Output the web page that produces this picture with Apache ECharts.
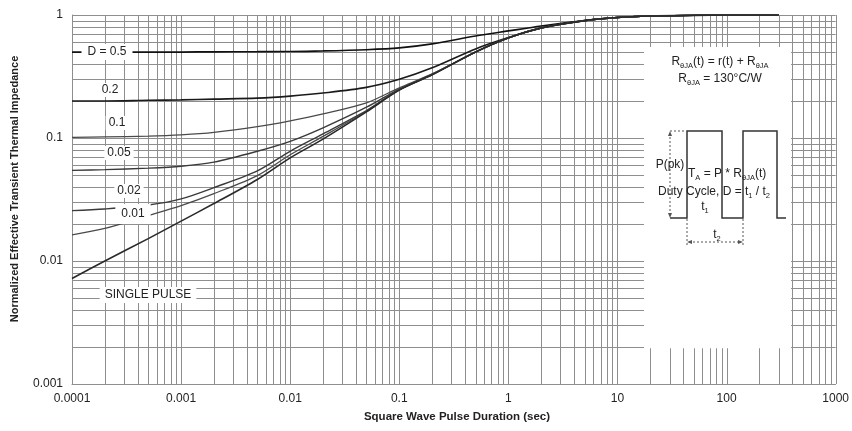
<!DOCTYPE html>
<html><head><meta charset="utf-8">
<script src="https://cdn.jsdelivr.net/npm/echarts@6/dist/echarts.min.js"></script>
<style>html,body{margin:0;padding:0;background:#fff}#c{width:852px;height:431px}</style>
</head><body><div id="c"></div>
<script>
// ---------- data ----------
const xTickLabels = ['0.0001','0.001','0.01','0.1','1','10','100','1000'];
const yTickLabels = ['0.001','0.01','0.1','1'];
const pulseDurations = [0.0001,0.0002,0.0005,0.001,0.002,0.005,0.01,0.02,0.05,0.1,0.2,0.5,1,2,5,10,20,50,100,300];
const dutyD05  = [0.50,0.50,0.50,0.50,0.502,0.503,0.505,0.51,0.522,0.54,0.582,0.675,0.742,0.814,0.90,0.954,0.981,0.994,1.0,1.0];
const dutyD02  = [0.200,0.200,0.2025,0.204,0.207,0.211,0.219,0.232,0.258,0.300,0.372,0.530,0.655,0.786,0.90,0.954,0.981,0.994,1.0,1.0];
const dutyD01  = [0.101,0.102,0.1035,0.106,0.111,0.1236,0.138,0.157,0.193,0.256,0.332,0.50,0.651,0.784,0.90,0.954,0.981,0.994,1.0,1.0];
const dutyD005 = [0.0546,0.0553,0.0569,0.059,0.0637,0.0781,0.094,0.121,0.178,0.25,0.33,0.50,0.651,0.784,0.90,0.954,0.981,0.994,1.0,1.0];
const dutyD002 = [0.0257,0.0265,0.0285,0.032,0.0395,0.054,0.078,0.108,0.167,0.247,0.328,0.50,0.651,0.784,0.90,0.954,0.981,0.994,1.0,1.0];
const dutyD001 = [0.0163,0.0184,0.0234,0.0282,0.0353,0.0494,0.073,0.103,0.165,0.246,0.327,0.50,0.651,0.784,0.90,0.954,0.981,0.994,1.0,1.0];
const singlePulse = [0.0072,0.0100,0.0152,0.0211,0.0293,0.046,0.069,0.098,0.163,0.245,0.326,0.50,0.651,0.784,0.90,0.954,0.981,0.994,1.0,1.0];

const FONT = "'Liberation Sans', Arial, sans-serif";
const GRID_COLOR = '#8e8e8e';
const gridMultipliers = [1,2,3,4,5,6,7,8,9];
const X_MIN = 1e-4, X_MAX = 1000, Y_MIN = 1e-3, Y_MAX = 1;

function pair(ys){ return pulseDurations.map((x,i)=>[x, ys[i]]); }

function gridRender(params, api) {
  const children = [];
  const top = api.coord([X_MIN, Y_MAX])[1], bot = api.coord([X_MIN, Y_MIN])[1];
  const left = api.coord([X_MIN, Y_MIN])[0], right = api.coord([X_MAX, Y_MIN])[0];
  for (let e = -4; e <= 3; e++) {
    for (const m of gridMultipliers) {
      const v = m * Math.pow(10, e);
      if (v > X_MAX * 1.0001) break;
      const x = Math.round(api.coord([v, Y_MIN])[0]) + 0.5;
      children.push({type:'line', shape:{x1:x, y1:top, x2:x, y2:bot}, style:{stroke:GRID_COLOR, lineWidth:1}});
    }
  }
  for (let e = -3; e <= 0; e++) {
    for (const m of gridMultipliers) {
      const v = m * Math.pow(10, e);
      if (v > Y_MAX * 1.0001) break;
      const y = Math.round(api.coord([X_MIN, v])[1]) + 0.5;
      children.push({type:'line', shape:{x1:left, y1:y, x2:right, y2:y}, style:{stroke:GRID_COLOR, lineWidth:1}});
    }
  }
  return {type:'group', children};
}

function boxRender(params, api) {
  const p0 = api.coord([17.5, 0.55]);
  const p1 = api.coord([390, 0.00195]);
  return {type:'rect', shape:{x:p0[0], y:p0[1], width:p1[0]-p0[0], height:p1[1]-p0[1]}, style:{fill:'#ffffff'}};
}

function curve(name, ys, color, width) {
  return {name, type:'line', data: pair(ys), showSymbol:false, symbol:'none', smooth:0.3,
    lineStyle:{color, width}, z:3, silent:true};
}

function labelFromValue(v, labels, minExp) {
  const e = Math.round(Math.log10(v));
  return labels[e - minExp] || '';
}

const txt = (text, x, y, extra, rot) => Object.assign({type:'text', x, y, z:20, silent:true, rotation: rot || 0,
  style:Object.assign({text, fontSize:12, fontFamily:FONT, fill:'#222', align:'center', verticalAlign:'middle'}, extra||{})});
const curveLabel = (text, x, y, pad) => txt(text, x, y, {backgroundColor:'#fff', padding: pad || [1,3]});
const dot = {stroke:'#555', lineWidth:1, lineDash:[2,2]};
const seg = (x1,y1,x2,y2,style) => ({type:'line', z:20, silent:true, shape:{x1,y1,x2,y2}, style: style || dot});
const richBase = {a:{fontSize:12, fontFamily:FONT, fill:'#222', lineHeight:16, verticalAlign:'middle'},
                  s:{fontSize:7.5, fontFamily:FONT, fill:'#222', lineHeight:16, verticalAlign:'bottom', padding:[4,0,0,0]}};
const rtxt = (text, x, y, align) => ({type:'text', x, y, z:20, silent:true,
  style:{text, align: align || 'center', verticalAlign:'middle', rich: richBase}});

const option = {
  animation:false,
  backgroundColor:'#fff',
  grid:{left:72, right:15, top:15, bottom:47, containLabel:false},
  xAxis:{type:'log', logBase:10, min:X_MIN, max:X_MAX,
    axisLine:{show:true, lineStyle:{color:GRID_COLOR, width:1}},
    axisTick:{show:false}, splitLine:{show:false},
    axisLabel:{margin:9, fontSize:12, fontFamily:FONT, color:'#222', showMinLabel:true, showMaxLabel:true,
      formatter: v => labelFromValue(v, xTickLabels, -4)}},
  yAxis:{type:'log', logBase:10, min:Y_MIN, max:Y_MAX,
    axisLine:{show:true, lineStyle:{color:GRID_COLOR, width:1}},
    axisTick:{show:false}, splitLine:{show:false},
    axisLabel:{margin:9, fontSize:12, fontFamily:FONT, color:'#222', showMinLabel:true, showMaxLabel:true,
      formatter: v => labelFromValue(v, yTickLabels, -3)}},
  series:[
    {type:'custom', renderItem:gridRender, data:[[1,0.01]], z:1, silent:true, clip:false},
    {type:'custom', renderItem:boxRender, data:[[1,0.01]], z:2, silent:true, clip:false},
    curve('D=0.5', dutyD05, '#111', 1.7),
    curve('0.2', dutyD02, '#1a1a1a', 1.6),
    curve('0.1', dutyD01, '#4a4a4a', 1.3),
    curve('0.05', dutyD005, '#3a3a3a', 1.4),
    curve('0.02', dutyD002, '#3a3a3a', 1.4),
    curve('0.01', dutyD001, '#4a4a4a', 1.3),
    curve('SINGLE PULSE', singlePulse, '#2a2a2a', 1.6)
  ],
  graphic:[
    // axis titles
    txt('Normalized Effective Transient Thermal Impedance', 15, 189, {fontWeight:'bold', fontSize:11}, Math.PI/2),
    txt('Square Wave Pulse Duration (sec)', 457, 417, {fontWeight:'bold', fontSize:11.5}),
    // curve labels
    curveLabel('D = 0.5', 107, 52, [2,6]),
    curveLabel('0.2', 110, 90),
    curveLabel('0.1', 117, 123),
    curveLabel('0.05', 119, 153),
    curveLabel('0.02', 129, 191),
    curveLabel('0.01', 133, 214, [4,6]),
    curveLabel('SINGLE PULSE', 148, 295, [2,5]),
    // formula text
    rtxt('{a|R}{s|θJA}{a|(t) = r(t) + R}{s|θJA}', 720, 62),
    rtxt('{a|R}{s|θJA}{a| = 130°C/W}', 720, 79),
    // pulse waveform
    {type:'polyline', z:19, silent:true, shape:{points:[[670,218],[687,218],[687,131],[722,131],[722,218],[743,218],[743,131],[777,131],[777,218],[786,218]]},
      style:{stroke:'#333', lineWidth:1.5, fill:null}},
    seg(670,131,686,131),
    seg(670,133,670,216),
    {type:'polygon', z:20, silent:true, shape:{points:[[670,131],[668,136],[672,136]]}, style:{fill:'#555'}},
    {type:'polygon', z:20, silent:true, shape:{points:[[670,218],[668,213],[672,213]]}, style:{fill:'#555'}},
    seg(687,219,687,245),
    seg(743,219,743,245),
    seg(689,242,741,242),
    {type:'polygon', z:20, silent:true, shape:{points:[[687,242],[692,240],[692,244]]}, style:{fill:'#555'}},
    {type:'polygon', z:20, silent:true, shape:{points:[[743,242],[738,240],[738,244]]}, style:{fill:'#555'}},
    txt('P(pk)', 670, 165),
    rtxt('{a|T}{s|A}{a| = P * R}{s|θJA}{a|(t)}', 688, 174, 'left'),
    rtxt('{a|Duty Cycle, D = t}{s|1}{a| / t}{s|2}', 658, 192, 'left'),
    rtxt('{a|t}{s|1}', 705, 207),
    rtxt('{a|t}{s|2}', 717, 235)
  ]
};
const chart = echarts.init(document.getElementById('c'));
chart.setOption(option);
</script></body></html>
